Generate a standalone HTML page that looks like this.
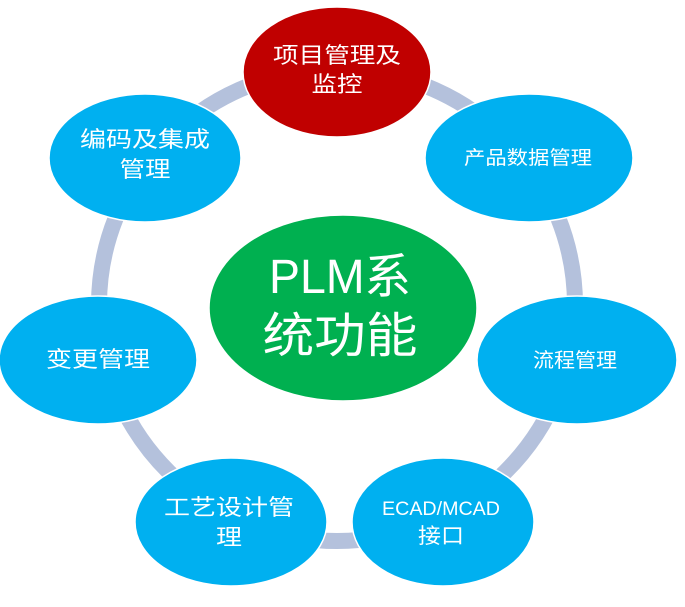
<!DOCTYPE html>
<html><head><meta charset="utf-8"><style>
html,body{margin:0;padding:0;background:#fff;}
svg{display:block;}
text{font-family:"Liberation Sans","Noto Sans CJK SC",sans-serif;fill:#fff;text-anchor:middle;}
</style></head><body>
<svg width="685" height="607" viewBox="0 0 685 607" xmlns="http://www.w3.org/2000/svg">
<ellipse cx="337" cy="305" rx="238" ry="236" fill="none" stroke="#b4c1dc" stroke-width="16"/>
<g stroke="#fff" stroke-width="1.5">
<ellipse cx="337" cy="72" rx="94" ry="65" fill="#c00000"/>
<ellipse cx="529" cy="158" rx="104" ry="64" fill="#00b0f0"/>
<ellipse cx="145" cy="158" rx="96" ry="64" fill="#00b0f0"/>
<ellipse cx="98" cy="360" rx="99" ry="64" fill="#00b0f0"/>
<ellipse cx="577" cy="360" rx="100" ry="64" fill="#00b0f0"/>
<ellipse cx="231" cy="522" rx="96" ry="64" fill="#00b0f0"/>
<ellipse cx="443" cy="522" rx="91" ry="64" fill="#00b0f0"/>
<ellipse cx="343" cy="308" rx="134" ry="93" fill="#00b050"/>
</g>
<text x="337" y="63" font-size="22" textLength="128" lengthAdjust="spacingAndGlyphs">项目管理及</text>
<text x="337" y="92" font-size="22" textLength="51" lengthAdjust="spacingAndGlyphs">监控</text>
<text x="528" y="164" font-size="19" textLength="128" lengthAdjust="spacingAndGlyphs">产品数据管理</text>
<text x="145" y="147" font-size="22" textLength="130" lengthAdjust="spacingAndGlyphs">编码及集成</text>
<text x="145" y="177" font-size="22" textLength="51" lengthAdjust="spacingAndGlyphs">管理</text>
<text x="98" y="367" font-size="22" textLength="104" lengthAdjust="spacingAndGlyphs">变更管理</text>
<text x="575" y="367" font-size="20" textLength="84" lengthAdjust="spacingAndGlyphs">流程管理</text>
<text x="229" y="515" font-size="22" textLength="130" lengthAdjust="spacingAndGlyphs">工艺设计管</text>
<text x="229" y="545" font-size="22" textLength="26" lengthAdjust="spacingAndGlyphs">理</text>
<text x="441" y="515" font-size="19" textLength="118" lengthAdjust="spacingAndGlyphs">ECAD/MCAD</text>
<text x="441" y="543" font-size="21" textLength="46" lengthAdjust="spacingAndGlyphs">接口</text>
<text x="340" y="293" font-size="48" textLength="142" lengthAdjust="spacingAndGlyphs">PLM系</text>
<text x="340" y="352" font-size="48" textLength="155" lengthAdjust="spacingAndGlyphs">统功能</text>
</svg>
</body></html>
